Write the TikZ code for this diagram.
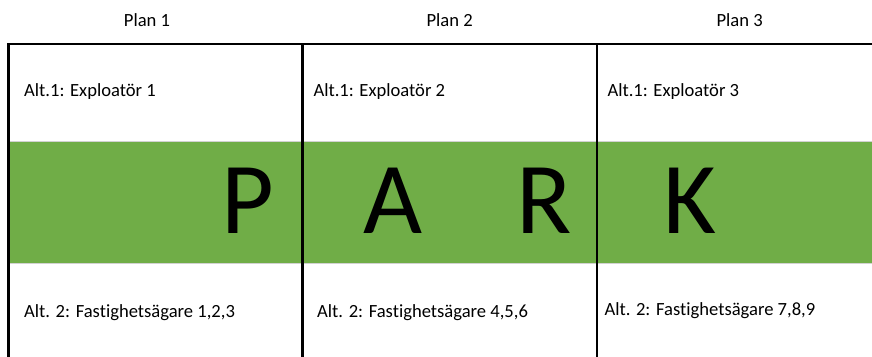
\documentclass[tikz,border=0pt]{standalone}
\usepackage{fontspec}
\setmainfont[Ligatures=NoCommon]{Carlito}
\definecolor{parkgreen}{HTML}{70AD47}
\begin{document}
\begin{tikzpicture}[x=1pt,y=-1pt,
  gridline/.style={line width=2.6pt,black},
  planlabel/.style={anchor=base,inner sep=0pt,font=\fontsize{18.6}{22}\selectfont},
  cell/.style={anchor=base west,inner sep=0pt,font=\fontsize{18.6}{22}\selectfont},
  bigletter/.style={anchor=base,inner sep=0pt,font=\fontsize{102}{110}\selectfont}]
  \useasboundingbox (0,0) rectangle (872,356);
  \clip (0,0) rectangle (872,356);
  % park band
  \fill[parkgreen] (8.5,141) rectangle (880,263);
  \draw[gray!35,line width=0.6pt] (8.5,141) -- (880,141) (8.5,263) -- (880,263);
  % table frame
  \draw[gridline] (8.5,370) -- (8.5,44) -- (880,44);
  \draw[gridline] (302.7,44) -- (302.7,370);
  \draw[gridline] (596.8,44) -- (596.8,370);
  % column headings
  \node[planlabel] (p1) at (147,26) {Plan 1};
  \node[planlabel] (p2) at (449.7,26) {Plan 2};
  \node[planlabel] (p3) at (739.7,26) {Plan 3};
  % first alternative
  \node[cell] (a1) at (24,96.5) {Alt.1: Exploatör 1};
  \node[cell] (a2) at (313.3,96.5) {Alt.1: Exploatör 2};
  \node[cell] (a3) at (607.3,96.5) {Alt.1: Exploatör 3};
  % park letters
  \node[bigletter] (lp) at (247.5,233) {P};
  \node[bigletter] (la) at (393,233) {A};
  \node[bigletter] (lr) at (544,233) {R};
  \node[bigletter] (lk) at (690,233) {K};
  % second alternative
  \node[cell] (b1) at (24,317) {Alt. 2: Fastighetsägare 1,2,3};
  \node[cell] (b2) at (317,317) {Alt. 2: Fastighetsägare 4,5,6};
  \node[cell] (b3) at (604.3,315) {Alt. 2: Fastighetsägare 7,8,9};
\end{tikzpicture}
\end{document}
